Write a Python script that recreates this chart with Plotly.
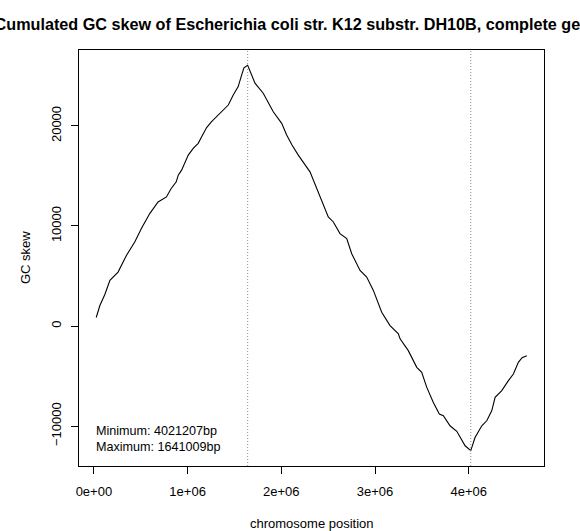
import plotly.graph_objects as go

# Data (position in bp, cumulated GC skew)
position = [25000, 64000, 117000, 171000, 258000, 347000, 436000, 507000, 596000, 685000,
            774000, 825000, 879000, 900000, 936000, 971000, 1007000, 1060000, 1113000, 1150000,
            1203000, 1256000, 1327000, 1380000, 1434000, 1487000, 1540000, 1577000, 1601000, 1641009,
            1665000, 1719000, 1807000, 1844000, 1914000, 2004000, 2057000, 2114000, 2181000, 2306000,
            2377000, 2431000, 2501000, 2555000, 2626000, 2698000, 2751000, 2840000, 2911000, 2982000,
            3071000, 3160000, 3249000, 3267000, 3355000, 3445000, 3498000, 3552000, 3622000, 3686000,
            3729000, 3800000, 3872000, 3961000, 4021207, 4067000, 4139000, 4192000, 4245000, 4281000,
            4352000, 4423000, 4476000, 4529000, 4569000, 4619000]
gc_skew = [850, 2050, 3160, 4560, 5390, 7060, 8400, 9740, 11240, 12400,
           12900, 13750, 14410, 15080, 15580, 16250, 17080, 17760, 18260, 18920,
           19840, 20420, 21090, 21590, 22090, 23100, 23930, 25100, 25800, 26050,
           25500, 24270, 23270, 22600, 21420, 20260, 19090, 18090, 17080, 15410,
           13750, 12400, 10900, 10400, 9240, 8740, 7230, 5560, 4890, 3560,
           1380, 50, -780, -1280, -2460, -4130, -4630, -6130, -7640, -8800,
           -8970, -9970, -10520, -11970, -12450, -11140, -9970, -9470, -8470, -7130,
           -6460, -5460, -4790, -3630, -3160, -2960]

min_pos = 4021207
max_pos = 1641009

title_text = "Cumulated GC skew of Escherichia coli str. K12 substr. DH10B, complete genome"
x_tickvals = [0, 1000000, 2000000, 3000000, 4000000]
x_ticktext = ["0e+00", "1e+06", "2e+06", "3e+06", "4e+06"]
y_tickvals = [-10000, 0, 10000, 20000]
y_ticktext = ["\u221210000", "0", "10000", "20000"]

FONT = "Liberation Sans, Arial, Helvetica, sans-serif"


def padded(vals, frac=0.04):
    lo, hi = min(vals), max(vals)
    d = (hi - lo) * frac
    return [lo - d, hi + d]


fig = go.Figure()
fig.add_trace(go.Scatter(x=position, y=gc_skew, mode="lines",
                         line=dict(color="black", width=1.1), showlegend=False,
                         hoverinfo="skip"))

for p in (max_pos, min_pos):
    fig.add_shape(type="line", x0=p, x1=p, xref="x", yref="paper", y0=0, y1=1,
                  line=dict(color="#8c8c8c", width=1, dash="1px,2px"))

axis_common = dict(showgrid=False, zeroline=False, showline=True, mirror=True,
                   linecolor="black", linewidth=1, ticks="outside", ticklen=7,
                   tickcolor="black", tickwidth=1,
                   tickfont=dict(family=FONT, size=13, color="black"))

fig.update_xaxes(range=padded(position), tickmode="array", tickvals=x_tickvals,
                 ticktext=x_ticktext, ticklabelstandoff=6, **axis_common)
fig.update_yaxes(range=padded(gc_skew), tickmode="array", tickvals=y_tickvals,
                 ticktext=y_ticktext, tickangle=-90, ticklabelstandoff=5, **axis_common)

ann_font = dict(family=FONT, size=13, color="black")
fig.add_annotation(text="chromosome position", xref="paper", yref="paper", x=0.5, y=0,
                   yshift=-57, showarrow=False, font=ann_font, yanchor="middle")
fig.add_annotation(text="GC skew", xref="paper", yref="paper", x=0, y=0.5,
                   xshift=-54, textangle=-90, showarrow=False, font=ann_font,
                   xanchor="center", yanchor="middle")
fig.add_annotation(text=f"Minimum: {min_pos}bp", xref="paper", yref="paper",
                   x=0.0329, y=0.0841, xanchor="left", yanchor="middle",
                   showarrow=False, font=dict(family=FONT, size=12.6, color="black"))
fig.add_annotation(text=f"Maximum: {max_pos}bp", xref="paper", yref="paper",
                   x=0.0329, y=0.0464, xanchor="left", yanchor="middle",
                   showarrow=False, font=dict(family=FONT, size=12.6, color="black"))

fig.update_layout(
    width=580, height=531,
    margin=dict(l=79, r=36, t=50, b=65),
    paper_bgcolor="white", plot_bgcolor="white",
    title=dict(text="<b>" + title_text + "</b>", xref="container",
               x=309 / 580, xanchor="center",
               y=1 - 24 / 531, yanchor="middle",
               font=dict(family=FONT, size=16.2, color="black")),
)

fig.write_html("out.html")
